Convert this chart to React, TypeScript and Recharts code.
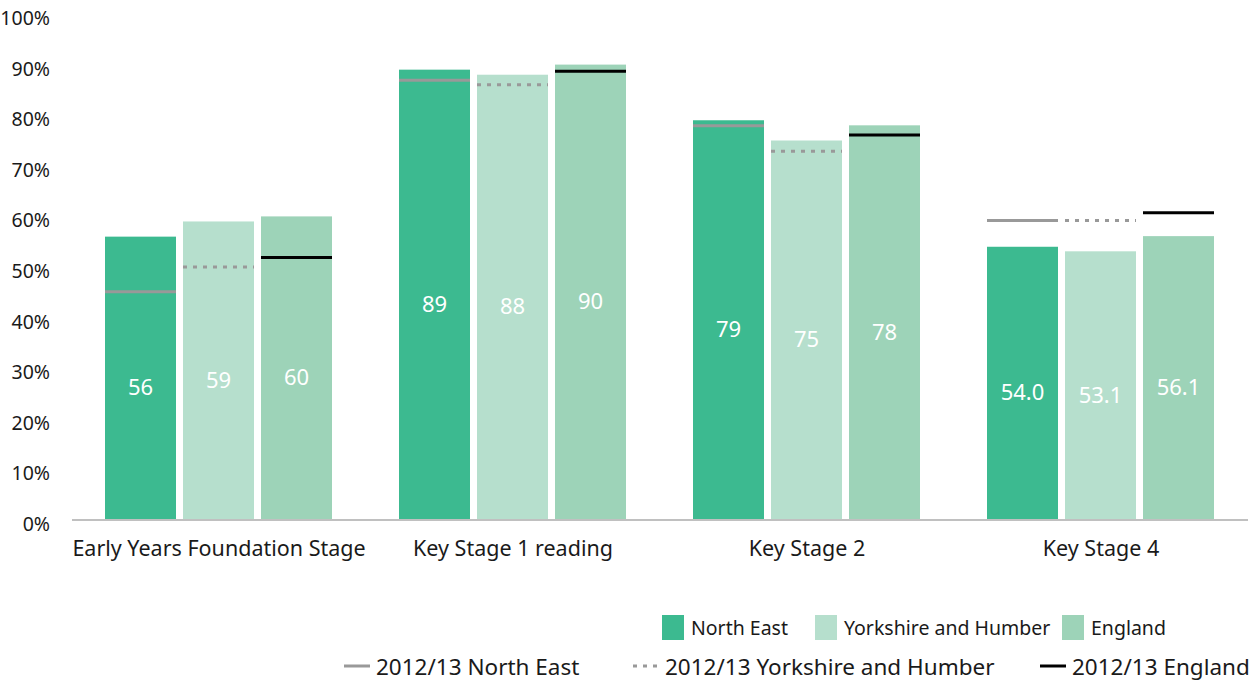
import React from 'react';
import { BarChart, Bar, XAxis, YAxis } from 'recharts';

const categories = ['Early Years Foundation Stage', 'Key Stage 1 reading', 'Key Stage 2', 'Key Stage 4'];
const northEast = [56, 89, 79, 54.0];
const yorkshire = [59, 88, 75, 53.1];
const england = [60, 90, 78, 56.1];
const northEastLabels = ['56', '89', '79', '54.0'];
const yorkshireLabels = ['59', '88', '75', '53.1'];
const englandLabels = ['60', '90', '78', '56.1'];
const prevNorthEast = [45.1, 86.9, 77.9, 59.2];
const prevYorkshire = [50.0, 86.0, 72.9, 59.2];
const prevEngland = [51.9, 88.7, 76.1, 60.7];
const yTicks = [0, 10, 20, 30, 40, 50, 60, 70, 80, 90, 100];

const data = categories.map((c, i) => ({
  name: c,
  ne: northEast[i],
  yh: yorkshire[i],
  en: england[i],
  neLabel: northEastLabels[i],
  yhLabel: yorkshireLabels[i],
  enLabel: englandLabels[i],
  nePrev: prevNorthEast[i],
  yhPrev: prevYorkshire[i],
  enPrev: prevEngland[i],
}));

const FONT = '"Noto Sans", "Open Sans", sans-serif';
const C_NE = '#3cba90';
const C_YH = '#b6dfcd';
const C_EN = '#9dd3b8';

function makeShape(fill: string, prevKey: string, labelKey: string, lineStyle: { stroke: string; dash?: string }) {
  return (props: any) => {
    const { x, y, width, height, payload, value } = props;
    const v = Array.isArray(value) ? value[1] - value[0] : value;
    const base = y + height;
    const perUnit = v ? height / v : 0;
    const prev = payload[prevKey];
    const py = base - prev * perUnit;
    return (
      <g>
        <rect x={x} y={y} width={width} height={height} fill={fill} />
        <line
          x1={x}
          x2={x + width}
          y1={py}
          y2={py}
          stroke={lineStyle.stroke}
          strokeWidth={3}
          strokeDasharray={lineStyle.dash}
        />
        <text
          x={x + width / 2}
          y={y + height / 2 + 8}
          textAnchor="middle"
          dominantBaseline="central"
          fill="#ffffff"
          fontSize={22}
          fontFamily={FONT}
        >
          {payload[labelKey]}
        </text>
      </g>
    );
  };
}

const LegendBox = () => (
  <div style={{ position: 'absolute', left: 0, top: 0, width: 1250, height: 681, pointerEvents: 'none', fontFamily: FONT, color: '#1a1a1a' }}>
    {[
      { x: 662, label: 'North East', color: C_NE },
      { x: 815, label: 'Yorkshire and Humber', color: C_YH },
      { x: 1062, label: 'England', color: C_EN },
    ].map((it) => (
      <div key={it.label} style={{ position: 'absolute', left: it.x, top: 614, height: 26, fontSize: 19.5, display: 'flex', alignItems: 'center', whiteSpace: 'nowrap' }}>
        <div style={{ width: 22, height: 25, background: it.color, marginRight: 7 }} />
        <span>{it.label}</span>
      </div>
    ))}
    {[
      { x: 344, label: '2012/13 North East', stroke: '#999999', dash: undefined },
      { x: 633, label: '2012/13 Yorkshire and Humber', stroke: '#999999', dash: '4 6' },
      { x: 1040, label: '2012/13 England', stroke: '#000000', dash: undefined },
    ].map((it) => (
      <div key={it.label} style={{ position: 'absolute', left: it.x, top: 652, height: 28, fontSize: 22.5, display: 'flex', alignItems: 'center', whiteSpace: 'nowrap' }}>
        <svg width={26} height={6} style={{ marginRight: 6 }}>
          <line x1={0} x2={26} y1={3} y2={3} stroke={it.stroke} strokeWidth={3} strokeDasharray={it.dash} />
        </svg>
        <span>{it.label}</span>
      </div>
    ))}
  </div>
);

export default function App() {
  return (
    <div style={{ position: 'absolute', left: 0, top: 0, width: 1250, height: 681, overflow: 'hidden', background: '#fff' }}>
      <BarChart
        width={1250}
        height={681}
        data={data}
        margin={{ top: 14, right: 2, left: 0, bottom: 101 }}
        barCategoryGap={33}
        barGap={7}
      >
        <XAxis
          dataKey="name"
          height={60}
          tickLine={false}
          axisLine={{ stroke: '#c0c0c0', strokeWidth: 2 }}
          tick={{ fontSize: 21.5, fill: '#1a1a1a', fontFamily: FONT }}
          tickMargin={15}
          interval={0}
        />
        <YAxis
          width={72}
          domain={[0, 100]}
          ticks={yTicks}
          tickFormatter={(v: number) => `${v}%`}
          axisLine={false}
          tickLine={false}
          tick={{ fontSize: 19.5, fill: '#1a1a1a', fontFamily: FONT, dy: 4 }}
          tickMargin={16}
        />
        <Bar dataKey="ne" isAnimationActive={false} shape={makeShape(C_NE, 'nePrev', 'neLabel', { stroke: '#999999' })} />
        <Bar dataKey="yh" isAnimationActive={false} shape={makeShape(C_YH, 'yhPrev', 'yhLabel', { stroke: '#999999', dash: '4 6' })} />
        <Bar dataKey="en" isAnimationActive={false} shape={makeShape(C_EN, 'enPrev', 'enLabel', { stroke: '#000000' })} />
      </BarChart>
      <LegendBox />
    </div>
  );
}
